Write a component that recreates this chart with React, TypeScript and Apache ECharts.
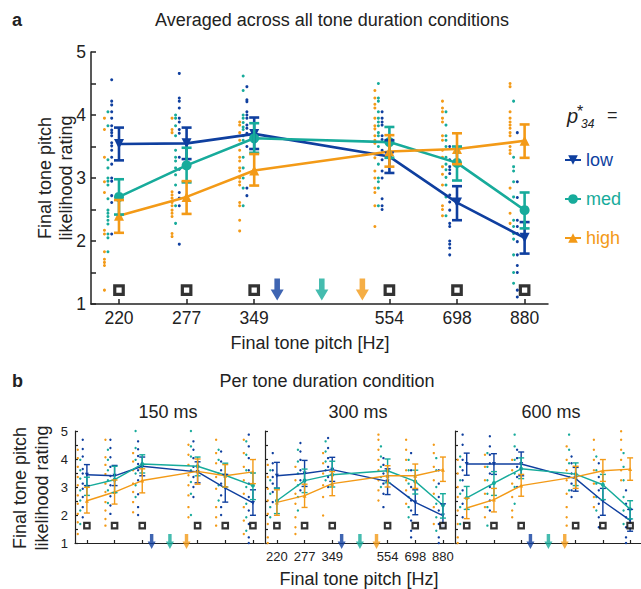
import React, { useEffect, useRef } from 'react';
import * as echarts from 'echarts';

// ---------- categories / ticks ----------
const PITCH_LABELS = ['220', '277', '349', '554', '698', '880'];
const PITCH_POS = [0, 1, 2, 4, 5, 6]; // equal-semitone slots (the 440 Hz slot is empty)
const CONDITIONS = ['low', 'med', 'high'];
const ARROW_POS = [2.34, 3.0, 3.6]; // p*34 markers for low, med, high
const Y_TICKS = [1, 2, 3, 4, 5];
const DURATIONS = ['150 ms', '300 ms', '600 ms'];

// ---------- panel a: averaged ----------
const A_LOW_MEAN = [3.54, 3.55, 3.7, 3.34, 2.61, 2.05];
const A_LOW_LO = [3.28, 3.3, 3.46, 3.08, 2.33, 1.8];
const A_LOW_HI = [3.8, 3.8, 3.96, 3.6, 2.87, 2.3];
const A_MED_MEAN = [2.7, 3.2, 3.63, 3.57, 3.24, 2.49];
const A_MED_LO = [2.42, 2.93, 3.4, 3.32, 2.96, 2.2];
const A_MED_HI = [2.98, 3.48, 3.87, 3.81, 3.5, 2.77];
const A_HIGH_MEAN = [2.4, 2.7, 3.12, 3.42, 3.46, 3.59];
const A_HIGH_LO = [2.13, 2.43, 2.88, 3.18, 3.22, 3.32];
const A_HIGH_HI = [2.65, 2.95, 3.38, 3.68, 3.71, 3.85];

const A_DOTS_LOW = [
  [4.56, 4.22, 4.16, 4.05, 3.95, 3.83, 3.76, 3.72, 3.67, 3.56, 3.51, 3.44, 3.33, 3.22, 3.0, 2.95, 2.72, 2.61, 2.11],
  [4.66, 4.27, 4.22, 4.11, 3.95, 3.89, 3.77, 3.71, 3.33, 3.14, 2.77, 2.68, 2.56, 1.95],
  [4.45, 4.24, 4.21, 4.05, 4.0, 3.95, 3.84, 3.79, 3.71, 3.5, 2.84, 2.72],
  [4.05, 3.95, 3.89, 3.84, 3.67, 3.61, 3.44, 3.29, 3.11, 3.0, 2.67, 2.56, 2.5],
  [3.5, 3.29, 3.18, 3.13, 3.07, 2.73, 2.62, 2.49, 2.28, 2.23, 2.0, 1.95, 1.89, 1.78],
  [3.72, 2.94, 2.69, 2.33, 2.23, 2.12, 1.99, 1.78, 1.61, 1.5, 1.22, 1.11],
];
const A_DOTS_MED = [
  [4.05, 3.83, 3.29, 3.16, 3.0, 2.95, 2.89, 2.67, 2.49, 2.44, 2.39, 2.33, 2.27, 2.11, 2.05, 1.83],
  [4.0, 3.95, 3.83, 3.67, 3.44, 3.33, 3.27, 3.16, 3.05, 2.89, 2.56, 2.28],
  [4.62, 4.39, 4.0, 3.95, 3.88, 3.81, 3.77, 3.67, 3.6, 3.33, 3.16, 3.0, 2.84, 2.56],
  [4.5, 4.27, 4.22, 4.05, 3.95, 3.89, 3.83, 3.72, 3.67, 3.5, 3.39, 3.22, 3.0, 2.94, 2.84, 2.56],
  [4.05, 3.84, 3.67, 3.6, 3.5, 3.33, 3.22, 3.13, 3.01, 2.89, 2.7, 2.4],
  [4.22, 3.33, 3.18, 3.11, 2.94, 2.7, 2.33, 2.23, 2.12, 2.03, 1.78, 1.5, 1.33],
];
const A_DOTS_HIGH = [
  [3.95, 3.77, 3.33, 2.94, 2.77, 2.17, 2.11, 1.83, 1.71, 1.66, 1.61, 1.22],
  [3.95, 3.77, 3.72, 2.78, 2.73, 2.68, 2.61, 2.56, 2.49, 2.44, 2.39, 2.12, 2.07],
  [3.89, 3.84, 3.72, 3.6, 3.44, 3.33, 3.27, 3.16, 3.11, 3.0, 2.94, 2.89, 2.61, 2.56, 2.33, 2.16],
  [4.39, 4.27, 4.17, 4.11, 3.95, 3.83, 3.78, 3.67, 3.6, 3.55, 3.32, 3.11, 3.0, 2.84, 2.77, 2.56, 2.23],
  [4.22, 4.11, 4.05, 3.95, 3.89, 3.67, 3.6, 3.44, 3.33, 3.18, 3.06, 2.89, 2.56, 2.5, 2.4],
  [4.5, 4.45, 4.05, 3.95, 3.89, 3.84, 3.79, 3.72, 3.67, 3.5, 3.44, 3.39, 2.84, 2.44, 2.28],
];

// ---------- panel b: 150 ms ----------
const B150_LOW_MEAN = [3.44, 3.4, 3.74, 3.54, 2.96, 2.43];
const B150_LOW_LO = [3.05, 3.05, 3.4, 3.15, 2.46, 1.99];
const B150_LOW_HI = [3.8, 3.77, 4.07, 3.9, 3.45, 2.9];
const B150_MED_MEAN = [3.02, 3.26, 3.82, 3.74, 3.42, 3.05];
const B150_MED_LO = [2.7, 2.8, 3.5, 3.4, 3.0, 2.55];
const B150_MED_HI = [3.35, 3.74, 4.15, 4.07, 3.85, 3.5];
const B150_HIGH_MEAN = [2.51, 2.82, 3.23, 3.56, 3.4, 3.54];
const B150_HIGH_LO = [2.07, 2.39, 2.79, 3.1, 3.0, 3.12];
const B150_HIGH_HI = [2.99, 3.25, 3.65, 4.0, 3.8, 3.98];
const B150_DOTS_LOW = [
  [4.69, 4.36, 4.09, 3.64, 3.48, 3.12, 2.94, 2.64, 2.28, 1.92],
  [4.69, 4.39, 4.06, 3.72, 3.39, 3.06, 2.67, 2.34, 2.04],
  [4.63, 4.35, 4.11, 3.82, 3.6, 3.24, 2.74, 2.28, 2.0],
  [4.63, 4.33, 4.03, 3.72, 3.36, 3.0, 2.64],
  [4.27, 3.91, 3.6, 3.12, 2.7, 2.28, 2.0],
  [4.87, 4.45, 4.03, 3.6, 3.12, 2.64, 2.16, 1.68, 1.2, 1.0],
];
const B150_DOTS_MED = [
  [3.97, 3.6, 3.3, 2.88, 2.52, 2.16, 1.68],
  [4.33, 3.97, 3.6, 3.24, 2.88, 2.43],
  [5.0, 4.39, 3.97, 3.48, 3.06, 2.64],
  [5.0, 4.45, 4.09, 3.6, 3.18, 2.76, 2.0],
  [4.33, 3.97, 3.48, 3.06, 2.52],
  [4.63, 4.15, 3.6, 3.0, 2.4, 1.92, 1.44],
];
const B150_DOTS_HIGH = [
  [4.33, 4.03, 3.72, 3.36, 3.06, 2.7, 2.4, 2.04, 1.74, 1.32],
  [4.69, 4.06, 3.79, 3.46, 3.12, 2.82, 2.46, 2.16, 1.86, 1.62],
  [4.21, 3.91, 3.6, 3.12, 2.82, 2.46, 2.1],
  [4.51, 4.15, 3.79, 3.42, 3.06, 2.7, 2.28, 1.92],
  [4.69, 4.21, 3.85, 3.36, 2.94, 2.28, 1.92, 1.62],
  [4.69, 4.21, 3.72, 3.24, 2.76, 2.28, 1.8, 1.32],
];

// ---------- panel b: 300 ms ----------
const B300_LOW_MEAN = [3.4, 3.48, 3.62, 3.2, 2.45, 1.98];
const B300_LOW_LO = [2.96, 3.02, 3.2, 2.73, 2.01, 1.57];
const B300_LOW_HI = [3.88, 3.95, 4.06, 3.65, 2.9, 2.4];
const B300_MED_MEAN = [2.51, 3.23, 3.44, 3.58, 3.2, 2.35];
const B300_MED_LO = [2.05, 2.8, 3.0, 3.15, 2.75, 1.89];
const B300_MED_HI = [2.96, 3.64, 3.92, 4.0, 3.6, 2.76];
const B300_HIGH_MEAN = [2.45, 2.69, 3.12, 3.4, 3.4, 3.62];
const B300_HIGH_LO = [1.99, 2.27, 2.69, 3.0, 2.95, 3.2];
const B300_HIGH_HI = [2.9, 3.1, 3.55, 3.76, 3.82, 4.07];
const B300_DOTS_LOW = [
  [4.21, 3.85, 3.6, 3.36, 3.12, 2.82, 2.46],
  [4.57, 4.27, 3.97, 3.6, 3.24, 2.88],
  [4.75, 4.39, 4.03, 3.72, 3.36, 3.0],
  [4.03, 3.79, 3.48, 3.12, 2.76, 2.28],
  [4.21, 3.6, 3.0, 2.52, 2.16, 1.8, 1.44, 1.2],
  [3.6, 3.12, 2.64, 2.16, 1.68, 1.2, 1.0],
];
const B300_DOTS_MED = [
  [3.6, 3.24, 2.76, 2.28, 1.92],
  [4.33, 3.91, 3.48, 3.06, 2.64, 2.16],
  [4.63, 4.27, 3.91, 3.6, 3.24],
  [4.45, 4.09, 3.72, 3.36, 3.0],
  [3.97, 3.6, 3.12, 2.64, 2.28, 1.92],
  [4.03, 3.6, 3.0, 2.4, 1.92, 1.44],
];
const B300_DOTS_HIGH = [
  [3.79, 3.36, 2.94, 2.52, 2.04, 1.68, 1.2, 1.0],
  [3.72, 3.24, 2.76, 2.4, 1.92, 1.56, 1.32],
  [4.21, 3.85, 3.48, 3.06, 2.64, 1.98],
  [4.87, 4.69, 4.33, 3.97, 3.6, 3.24, 2.88, 2.52],
  [4.69, 4.33, 3.97, 3.6, 3.24, 2.88, 2.4],
  [4.51, 4.21, 3.72, 3.24, 2.76, 2.28, 1.68],
];

// ---------- panel b: 600 ms ----------
const B600_LOW_MEAN = [3.82, 3.82, 3.82, 3.3, 2.49, 1.81];
const B600_LOW_LO = [3.42, 3.45, 3.4, 2.85, 1.99, 1.42];
const B600_LOW_HI = [4.21, 4.19, 4.25, 3.7, 2.95, 2.2];
const B600_MED_MEAN = [2.61, 3.14, 3.65, 3.46, 3.08, 2.21];
const B600_MED_LO = [2.2, 2.7, 3.3, 3.05, 2.55, 1.86];
const B600_MED_HI = [3.02, 3.55, 4.04, 3.86, 3.45, 2.51];
const B600_HIGH_MEAN = [2.25, 2.55, 3.05, 3.36, 3.58, 3.64];
const B600_HIGH_LO = [1.87, 2.11, 2.67, 2.95, 3.2, 3.24];
const B600_HIGH_HI = [2.6, 2.95, 3.45, 3.74, 3.98, 4.04];
const B600_DOTS_LOW = [
  [4.87, 4.51, 3.97, 3.6, 3.24, 2.88, 2.4, 1.92],
  [4.81, 4.45, 4.15, 3.85, 3.48, 3.0, 2.52, 2.16],
  [4.33, 4.03, 3.72, 3.36, 3.0],
  [4.09, 3.85, 3.48, 3.12, 2.88, 2.64],
  [3.85, 3.36, 2.88, 2.4, 1.92, 1.56],
  [2.88, 2.4, 1.92, 1.56, 1.2, 1.0],
];
const B600_DOTS_MED = [
  [4.09, 3.72, 3.24, 2.76, 2.28, 1.68],
  [4.21, 3.72, 3.24, 2.76, 2.28, 1.62],
  [4.87, 4.45, 3.97, 3.48, 3.0, 2.4],
  [4.87, 4.33, 3.85, 3.36, 2.88],
  [4.09, 3.6, 3.12, 2.64, 2.16],
  [4.21, 3.72, 3.24, 2.64, 2.16, 1.68],
];
const B600_DOTS_HIGH = [
  [3.97, 3.48, 3.0, 2.64, 2.16, 1.68, 1.2, 1.0],
  [4.15, 3.72, 3.24, 2.76, 2.28, 1.92],
  [3.97, 3.6, 3.12, 2.64, 2.16, 1.92],
  [4.45, 3.97, 3.6, 3.24, 2.76, 2.28, 1.92, 1.62],
  [4.69, 4.33, 3.97, 3.6, 3.12, 2.64, 2.28],
  [4.99, 4.69, 4.33, 3.97, 3.6, 3.24],
];

// ---------- styling ----------
const COLORS = ['#0f3f9f', '#17ab9b', '#f39a17'];
const SYMBOLS = ['triangle', 'circle', 'triangle'];
const SYMBOL_ROT = [180, 0, 0];
const FONT = '"Liberation Sans", Arial, Helvetica, sans-serif';
const TXT = '#222';
const ARROW_PATH = 'path://M4,0L10,0L10,11L14,11L7,22L0,11L4,11Z';

const STYLE_A = {
  lineWidth: 2.6, symbolSize: 10, dotSize: 3, dotOffset: [-0.108, -0.163, -0.215],
  capHalf: 5, errWidth: 2.6, squareSize: 8.5, squareBorder: 3.2, squareY: 1.22,
  arrowSize: [13, 22], arrowY: 1.23,
};
const STYLE_B = {
  lineWidth: 1.4, symbolSize: 4, dotSize: 2.4, dotOffset: [-0.15, -0.24, -0.33],
  capHalf: 3, errWidth: 1.4, squareSize: 5.5, squareBorder: 2.1, squareY: 1.62,
  arrowSize: [8, 15], arrowY: 1.05,
};

function panelSeries(gi: number, means: number[][], los: number[][], his: number[][], dots: number[][][], st: any, tag: string) {
  const out: any[] = [];
  COLORS.forEach((color, k) => {
    const data: number[][] = [];
    dots[k].forEach((col, j) => col.forEach((v) => data.push([PITCH_POS[j] + st.dotOffset[k], v])));
    out.push({
      type: 'scatter', name: 'dots-' + tag + k, xAxisIndex: gi, yAxisIndex: gi, data,
      symbol: 'circle', symbolSize: st.dotSize, itemStyle: { color, opacity: 1 }, z: 1, silent: true,
    });
  });
  COLORS.forEach((color, k) => {
    out.push({
      type: 'line', name: tag === 'a' ? CONDITIONS[k] : CONDITIONS[k] + '-' + tag,
      xAxisIndex: gi, yAxisIndex: gi,
      data: means[k].map((v, j) => [PITCH_POS[j], v]),
      lineStyle: { color, width: st.lineWidth }, itemStyle: { color },
      symbol: SYMBOLS[k], symbolRotate: SYMBOL_ROT[k], symbolSize: st.symbolSize,
      showSymbol: true, z: 3, silent: true,
    });
    out.push({
      type: 'custom', name: 'err-' + tag + k, xAxisIndex: gi, yAxisIndex: gi,
      coordinateSystem: 'cartesian2d', z: 4, silent: true,
      encode: { x: 0, y: [1, 2] },
      data: los[k].map((lo, j) => [PITCH_POS[j], lo, his[k][j]]),
      renderItem: (params: any, api: any) => {
        const x = api.value(0);
        const a = api.coord([x, api.value(1)]);
        const b = api.coord([x, api.value(2)]);
        const style = { stroke: color, lineWidth: st.errWidth };
        const c = st.capHalf;
        return {
          type: 'group',
          children: [
            { type: 'line', shape: { x1: a[0], y1: a[1], x2: b[0], y2: b[1] }, style },
            { type: 'line', shape: { x1: a[0] - c, y1: a[1], x2: a[0] + c, y2: a[1] }, style },
            { type: 'line', shape: { x1: b[0] - c, y1: b[1], x2: b[0] + c, y2: b[1] }, style },
          ],
        };
      },
    });
  });
  out.push({
    type: 'scatter', name: 'sq-' + tag, xAxisIndex: gi, yAxisIndex: gi, z: 5, silent: true,
    data: PITCH_POS.map((x) => [x, st.squareY]), symbol: 'rect', symbolSize: st.squareSize,
    itemStyle: { color: '#fff', borderColor: '#000', borderWidth: st.squareBorder },
  });
  out.push({
    type: 'scatter', name: 'arr-' + tag, xAxisIndex: gi, yAxisIndex: gi, z: 5, silent: true, clip: false,
    data: ARROW_POS.map((x, k) => ({ value: [x, st.arrowY], itemStyle: { color: COLORS[k] } })),
    symbol: ARROW_PATH, symbolSize: st.arrowSize, symbolKeepAspect: false,
  });
  return out;
}

function xAxisCfg(gi: number, min: number, max: number, showLabels: boolean, fontSize: number, margin: number, tickLen: number, lw: number) {
  return {
    type: 'value', gridIndex: gi, min, max,
    axisLine: { show: true, onZero: false, lineStyle: { color: TXT, width: lw } },
    axisTick: { show: true, inside: true, length: tickLen, customValues: PITCH_POS, lineStyle: { color: TXT, width: lw } },
    axisLabel: {
      show: showLabels, customValues: PITCH_POS, margin, fontSize, fontFamily: FONT, color: TXT,
      formatter: (v: number) => { const i = PITCH_POS.indexOf(Math.round(v)); return i >= 0 ? PITCH_LABELS[i] : ''; },
    },
    splitLine: { show: false },
  };
}

function yAxisCfg(gi: number, showLabels: boolean, fontSize: number, margin: number, tickLen: number, lw: number) {
  return {
    type: 'value', gridIndex: gi, min: 1, max: 5, interval: 0.5,
    axisLine: { show: true, onZero: false, lineStyle: { color: TXT, width: lw } },
    axisTick: { show: true, inside: true, length: tickLen, lineStyle: { color: TXT, width: lw } },
    axisLabel: {
      show: showLabels, margin, fontSize, fontFamily: FONT, color: TXT,
      formatter: (v: number) => (Y_TICKS.indexOf(v) >= 0 ? String(v) : ''),
    },
    splitLine: { show: false },
  };
}

function txt(x: number, y: number, text: string, size: number, o: any = {}) {
  return {
    type: 'text', x, y, rotation: o.rotation || 0, silent: true, z: 10,
    style: {
      text, fontSize: size, fontFamily: FONT, fontWeight: o.bold ? 'bold' : 'normal',
      fontStyle: o.italic ? 'italic' : 'normal', fill: o.color || TXT,
      align: o.align || 'center', verticalAlign: 'middle',
      textAlign: o.align || 'center', textVerticalAlign: 'middle',
      lineHeight: o.lineHeight || size * 1.2,
    },
  };
}

export default function App() {
  const ref = useRef<HTMLDivElement>(null);
  useEffect(() => {
    if (!ref.current) return;
    const chart = echarts.init(ref.current, null, { renderer: 'svg' });

    const B_PANELS = [
      {
        means: [B150_LOW_MEAN, B150_MED_MEAN, B150_HIGH_MEAN], lo: [B150_LOW_LO, B150_MED_LO, B150_HIGH_LO],
        hi: [B150_LOW_HI, B150_MED_HI, B150_HIGH_HI], dots: [B150_DOTS_LOW, B150_DOTS_MED, B150_DOTS_HIGH],
      },
      {
        means: [B300_LOW_MEAN, B300_MED_MEAN, B300_HIGH_MEAN], lo: [B300_LOW_LO, B300_MED_LO, B300_HIGH_LO],
        hi: [B300_LOW_HI, B300_MED_HI, B300_HIGH_HI], dots: [B300_DOTS_LOW, B300_DOTS_MED, B300_DOTS_HIGH],
      },
      {
        means: [B600_LOW_MEAN, B600_MED_MEAN, B600_HIGH_MEAN], lo: [B600_LOW_LO, B600_MED_LO, B600_HIGH_LO],
        hi: [B600_LOW_HI, B600_MED_HI, B600_HIGH_HI], dots: [B600_DOTS_LOW, B600_DOTS_MED, B600_DOTS_HIGH],
      },
    ];

    let series: any[] = panelSeries(
      0, [A_LOW_MEAN, A_MED_MEAN, A_HIGH_MEAN], [A_LOW_LO, A_MED_LO, A_HIGH_LO],
      [A_LOW_HI, A_MED_HI, A_HIGH_HI], [A_DOTS_LOW, A_DOTS_MED, A_DOTS_HIGH], STYLE_A, 'a'
    );
    B_PANELS.forEach((p, i) => {
      series = series.concat(panelSeries(i + 1, p.means, p.lo, p.hi, p.dots, STYLE_B, 'b' + i));
    });

    const bLefts = [75, 265, 455];
    const option: any = {
      animation: false,
      backgroundColor: '#ffffff',
      textStyle: { fontFamily: FONT },
      grid: [
        { left: 91, top: 52, width: 457, height: 252 },
        ...bLefts.map((l) => ({ left: l, top: 431, width: 189, height: 112 })),
      ],
      xAxis: [
        xAxisCfg(0, -0.414, 6.346, true, 17.5, 5, 5, 1.5),
        xAxisCfg(1, -0.43, 6.4, false, 13, 7, 3, 1.2),
        xAxisCfg(2, -0.43, 6.4, true, 13, 7, 3, 1.2),
        xAxisCfg(3, -0.43, 6.4, false, 13, 7, 3, 1.2),
      ],
      yAxis: [
        yAxisCfg(0, true, 17.5, 5, 5, 1.5),
        yAxisCfg(1, true, 13, 7, 3, 1.2),
        yAxisCfg(2, false, 13, 7, 3, 1.2),
        yAxisCfg(3, false, 13, 7, 3, 1.2),
      ],
      legend: {
        data: CONDITIONS.map((c, k) => ({ name: c, textStyle: { color: COLORS[k] } })),
        orient: 'vertical', left: 564, top: 150, padding: 0,
        itemWidth: 16, itemHeight: 12, itemGap: 19,
        textStyle: { fontSize: 18, fontFamily: FONT, lineHeight: 20, padding: [0, 0, 0, 0] },
        selectedMode: false,
      },
      graphic: [
        txt(12, 20, 'a', 18, { bold: true, align: 'left' }),
        txt(332, 20, 'Averaged across all tone duration conditions', 18),
        txt(55, 178, 'Final tone pitch\nlikelihood rating', 18, { rotation: Math.PI / 2, lineHeight: 21 }),
        txt(310, 343, 'Final tone pitch [Hz]', 18),
        txt(567, 116, 'p', 20, { italic: true, align: 'left' }),
        txt(577, 111, '*', 16, { align: 'left' }),
        txt(581, 124, '34', 12, { italic: true, align: 'left' }),
        txt(607, 115, '=', 18, { align: 'left' }),
        txt(12, 381, 'b', 18, { bold: true, align: 'left' }),
        txt(327, 381, 'Per tone duration condition', 18),
        txt(168, 412, DURATIONS[0], 18),
        txt(358, 412, DURATIONS[1], 18),
        txt(551, 412, DURATIONS[2], 18),
        txt(31, 488, 'Final tone pitch\nlikelihood rating', 18, { rotation: Math.PI / 2, lineHeight: 22 }),
        txt(359, 579, 'Final tone pitch [Hz]', 18),
      ],
      series,
    };
    chart.setOption(option);
    return () => chart.dispose();
  }, []);
  return <div ref={ref} style={{ position: 'fixed', left: 0, top: 0, width: 641, height: 589 }} />;
}
